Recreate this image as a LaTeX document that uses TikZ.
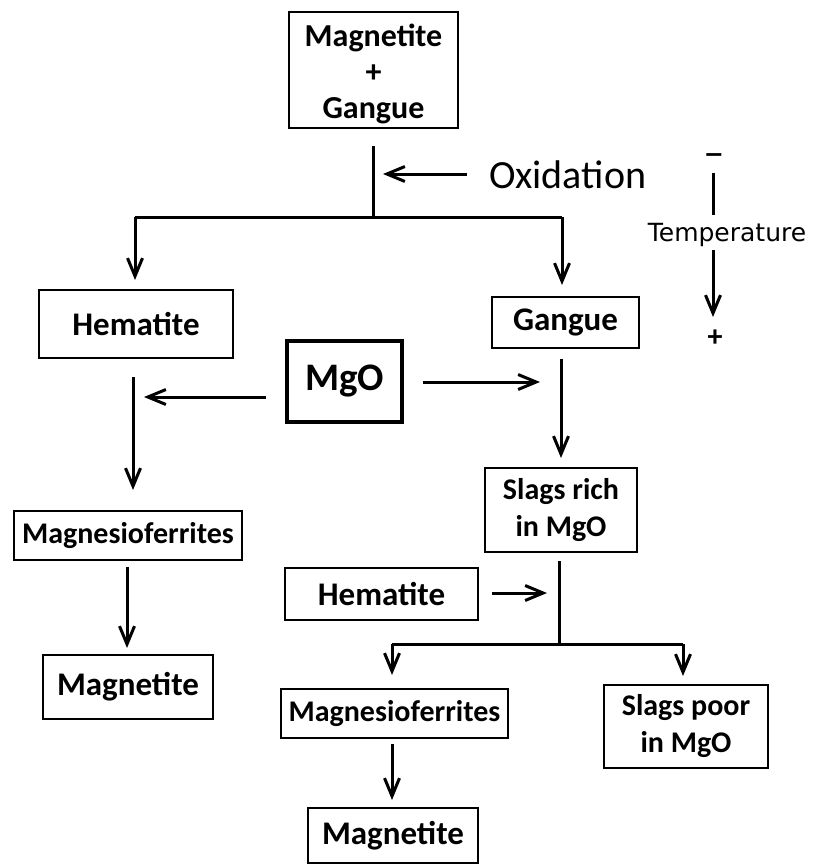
\documentclass[tikz,border=0pt]{standalone}
\usepackage{fontspec}
\setmainfont{Carlito}
\newfontfamily\dejavu{DejaVu Sans}
\usetikzlibrary{arrows.meta}
\begin{document}
\begin{tikzpicture}[x=1pt,y=-1pt,
  box/.style={draw, line width=2pt, inner sep=0pt, align=center,
    font=\bfseries\fontsize{33}{35}\selectfont},
  small/.style={font=\bfseries\fontsize{30}{37}\selectfont},
  conn/.style={line width=3pt},
  arr/.style={conn, -{Straight Barb[length=18pt,width=15pt]}}]
\useasboundingbox[fill=white] (0,0) rectangle (814,867);
% boxes
\node[box, minimum width=169pt, minimum height=116pt] (top) at (373.5,70) {};
\node[inner sep=0pt, align=center, font=\bfseries\fontsize{32}{36}\selectfont] (toptext) at (373.5,74) {Magnetite\\+\\Gangue};
\node[box, minimum width=194pt, minimum height=68pt] (hem1) at (136,324) {Hematite};
\node[box, minimum width=147pt, minimum height=51pt] (gang) at (565.5,322.5) {Gangue};
\node[box, line width=4.5pt, minimum width=115pt, minimum height=81pt, font=\bfseries\fontsize{39}{40}\selectfont] (mgo) at (344.5,381.5) {MgO};
\node[box, small, minimum width=152pt, minimum height=84pt] (rich) at (561,510) {Slags rich\\in MgO};
\node[box, small, minimum width=228pt, minimum height=49pt] (mf1) at (128,535.5) {Magnesioferrites};
\node[box, minimum width=170pt, minimum height=64pt] (mt1) at (128,687) {Magnetite};
\node[box, minimum width=193pt, minimum height=52pt] (hem2) at (381.5,594) {Hematite};
\node[box, small, minimum width=164pt, minimum height=83pt] (poor) at (686,726.5) {Slags poor\\in MgO};
\node[box, small, minimum width=227pt, minimum height=49pt] (mf2) at (394.5,713.5) {Magnesioferrites};
\node[box, minimum width=170pt, minimum height=55pt] (mt2) at (393,835.5) {Magnetite};
% labels
\node[anchor=west, inner sep=0pt, font=\fontsize{40}{42}\selectfont] (ox) at (489,175) {Oxidation};
\node[inner sep=0pt, font=\dejavu\fontsize{25}{28}\selectfont] (temp) at (727,235) {Temperature};
\node[inner sep=0pt, font=\dejavu\bfseries\fontsize{24}{26}\selectfont] (minus) at (714,158) {−};
\node[inner sep=0pt, font=\bfseries\fontsize{30}{32}\selectfont] (plus) at (715,338) {+};
% coordinates
\coordinate (s0) at (373,146);
\coordinate (j1) at (373,217);
\coordinate (jl) at (135,217);
\coordinate (jr) at (562,217);
\coordinate (tl) at (135,280);
\coordinate (tr) at (562,285);
\coordinate (oxs) at (467,174);
\coordinate (oxe) at (383,174);
\coordinate (h1s) at (133,377);
\coordinate (h1e) at (133,490);
\coordinate (mls) at (266,397);
\coordinate (mle) at (144,397);
\coordinate (mrs) at (423,382);
\coordinate (mre) at (540,382);
\coordinate (gs) at (561,359);
\coordinate (ge) at (561,458);
\coordinate (f1s) at (127,567);
\coordinate (f1e) at (127,648);
\coordinate (rs) at (559,561);
\coordinate (rj) at (559,644);
\coordinate (rl) at (392,644);
\coordinate (rr) at (683,644);
\coordinate (rle) at (392,675);
\coordinate (rre) at (683,676);
\coordinate (h2s) at (492,593);
\coordinate (h2e) at (547,593);
\coordinate (f2s) at (392,744);
\coordinate (f2e) at (392,800);
\coordinate (ts1) at (713,173);
\coordinate (te1) at (713,215);
\coordinate (ts2) at (713,250);
\coordinate (te2) at (713,317);
% connectors
\draw[conn] (s0) -- (j1);
\draw[conn] (jl) -- (jr);
\draw[arr] (jl) -- (tl);
\draw[arr] (jr) -- (tr);
\draw[arr] (oxs) -- (oxe);
\draw[arr] (h1s) -- (h1e);
\draw[arr] (mls) -- (mle);
\draw[arr] (mrs) -- (mre);
\draw[arr] (gs) -- (ge);
\draw[arr] (f1s) -- (f1e);
\draw[conn] (rs) -- (rj);
\draw[conn] (rl) -- (rr);
\draw[arr] (rl) -- (rle);
\draw[arr] (rr) -- (rre);
\draw[arr] (h2s) -- (h2e);
\draw[arr] (f2s) -- (f2e);
\draw[conn] (ts1) -- (te1);
\draw[arr] (ts2) -- (te2);
\end{tikzpicture}
\end{document}
